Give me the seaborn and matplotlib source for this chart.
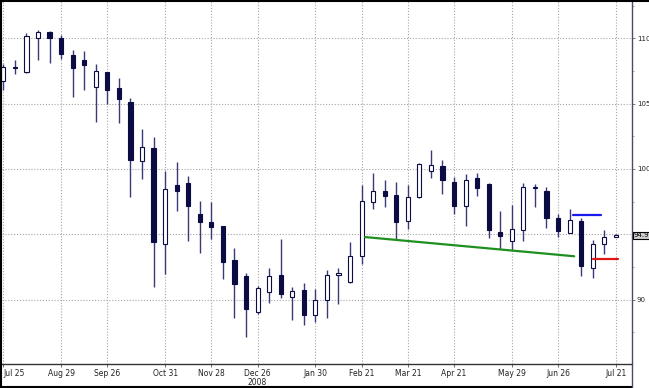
import numpy as np
import pandas as pd
import matplotlib
matplotlib.use("Agg")
import matplotlib.pyplot as plt
from matplotlib.lines import Line2D
from matplotlib.ticker import MultipleLocator
from matplotlib.transforms import blended_transform_factory
import seaborn as sns

# ---- data (weekly candles) ----
opens = [106.74, 107.72, 107.45, 110.05, 110.48, 110.00, 108.70, 108.32, 106.23, 107.40,
         106.18, 105.14, 100.58, 101.57, 94.24, 98.80, 98.88, 96.56, 95.90, 95.60,
         93.00, 91.78, 89.05, 90.56, 91.88, 90.20, 90.76, 88.80, 89.95, 91.90,
         91.34, 93.33, 97.50, 98.32, 98.02, 95.98, 97.83, 99.82, 100.25, 98.98,
         97.15, 99.28, 98.85, 95.16, 94.45, 95.29, 98.55, 98.29, 96.26, 95.11,
         96.00, 92.41, 94.27, 94.80]
highs = [108.02, 108.37, 110.38, 110.60, 110.58, 110.25, 109.10, 109.03, 108.02, 107.45,
         106.95, 105.39, 103.08, 102.41, 99.82, 100.56, 99.49, 97.56, 97.45, 95.65,
         93.94, 92.06, 91.00, 92.44, 94.63, 90.94, 91.30, 90.81, 92.29, 92.44,
         94.40, 98.73, 99.66, 99.11, 98.98, 98.80, 100.43, 101.45, 100.71, 99.36,
         99.62, 99.72, 98.90, 96.74, 97.27, 98.90, 98.85, 98.65, 96.56, 96.92,
         96.23, 94.53, 95.34, 95.00]
lows = [106.05, 107.25, 107.35, 108.30, 108.10, 108.40, 105.47, 106.03, 103.56, 105.00,
        103.53, 97.86, 99.21, 90.92, 91.93, 96.76, 94.45, 93.56, 94.60, 91.60,
        88.55, 87.15, 88.90, 89.72, 90.12, 88.40, 88.02, 88.29, 88.55, 89.69,
        91.30, 92.75, 96.92, 97.07, 94.66, 95.42, 97.80, 99.28, 98.09, 96.56,
        95.62, 97.96, 94.73, 93.89, 93.76, 94.45, 97.07, 95.50, 94.78, 95.10,
        91.78, 91.68, 93.51, 94.75]
closes = [107.83, 107.80, 110.18, 110.50, 110.05, 108.78, 107.71, 107.94, 107.48, 106.00,
          105.34, 100.71, 101.65, 94.37, 98.44, 98.27, 97.15, 95.92, 95.54, 92.85,
          91.22, 89.28, 90.86, 91.78, 90.40, 90.66, 88.80, 89.95, 91.91, 92.00,
          93.36, 97.53, 98.27, 97.96, 95.95, 97.83, 100.35, 100.27, 99.11, 97.15,
          99.11, 98.52, 95.29, 94.83, 95.37, 98.65, 98.62, 96.26, 95.21, 96.05,
          92.56, 94.22, 94.78, 94.90]
date_labels = ["Jul 25", "Aug 29", "Sep 26", "Oct 31", "Nov 28", "Dec 26", "Jan 30",
               "Feb 21", "Mar 21", "Apr 21", "May 29", "Jun 26", "Jul 21"]
label_positions = [0, 5, 9, 14, 18, 22, 27, 31, 35, 39, 44, 48, 53]
year_label = "2008"
year_position = 22
y_ticks = [90, 95, 100, 105, 110]
y_tick_labels = ["90", "", "100", "105", "110"]   # 95 is hidden under the price box
last_price_label = "94.9"

green_x = [31.3, 49.4]
green_y = [94.78, 93.31]
blue_x = [49.3, 51.7]
blue_y = [96.46, 96.46]
red_x = [51.0, 53.2]
red_y = [93.08, 93.08]

# ---- styling ----
sns.set_theme(style="white")
plt.rcParams['font.family'] = ['Liberation Sans Narrow', 'DejaVu Sans']

navy = '#0c0c44'
wick = '#3a3a78'

df = pd.DataFrame(dict(idx=np.arange(len(opens)), open=opens, high=highs,
                       low=lows, close=closes))
df['up'] = df['close'] >= df['open']
df['body_lo'] = df[['open', 'close']].min(axis=1)
df['body_h'] = (df['close'] - df['open']).abs().clip(lower=0.09)

W, H = 649, 388
fig = plt.figure(figsize=(W / 100, H / 100), dpi=100)
ax = fig.add_axes([1.5 / W, 23.7 / H, (632 - 1.5) / W, (364.3 - 1) / H])

ax.vlines(df['idx'], df['low'], df['high'], color=wick, linewidth=1.0, zorder=2)
ax.bar(df['idx'], df['body_h'], bottom=df['body_lo'], width=0.36,
       color=np.where(df['up'], 'white', navy), edgecolor=navy,
       linewidth=0.8, zorder=3)

sns.lineplot(x=green_x, y=green_y, ax=ax, color='#1f8f1f', linewidth=1.6, zorder=4)
sns.lineplot(x=blue_x, y=blue_y, ax=ax, color='#1a1aee', linewidth=1.6, zorder=4)
sns.lineplot(x=red_x, y=red_y, ax=ax, color='#e01515', linewidth=1.6, zorder=4)

ax.set_xlim(-0.16, 54.4)
ax.set_ylim(85.04, 112.85)

ax.yaxis.tick_right()
ax.set_yticks(y_ticks)
ax.set_yticklabels(y_tick_labels)
ax.yaxis.set_minor_locator(MultipleLocator(2.5))
ax.tick_params(axis='y', which='major', labelsize=5, length=2.5, width=0.6,
               color='#666666', pad=1.0, labelcolor='#222222', right=True, left=False)
ax.tick_params(axis='y', which='minor', length=1.5, width=0.5, color='#888888',
               right=True, left=False)

ax.set_xticks(label_positions)
ax.set_xticklabels(date_labels)
ax.tick_params(axis='x', labelsize=5.5, length=2, width=0.6, color='#555555',
               pad=1.5, labelcolor='#222222', bottom=True)
ax.get_xticklabels()[0].set_ha('left')

ax.grid(True, which='major', color='#a5a5a5', linestyle=(0, (1, 1.6)), linewidth=0.8)
ax.set_axisbelow(True)
ax.set_xlabel('')
ax.set_ylabel('')

for s in ['left', 'top']:
    ax.spines[s].set_visible(False)
ax.spines['bottom'].set_color('#333333')
ax.spines['bottom'].set_linestyle((0, (1, 1)))
ax.spines['bottom'].set_linewidth(1.0)
ax.spines['right'].set_color('#4a4a6a')
ax.spines['right'].set_linewidth(1.0)

trans = blended_transform_factory(ax.transData, ax.transAxes)
ax.text(year_position, -0.049, year_label, transform=trans, fontsize=5.5,
        ha='center', va='center', color='#222222')

ptrans = blended_transform_factory(ax.transAxes, ax.transData)
ax.text(1.003, closes[-1], last_price_label, transform=ptrans, fontsize=5,
        ha='left', va='center', color='black', zorder=10, clip_on=False,
        bbox=dict(boxstyle='square,pad=0.12', fc='#cfcfcf', ec='black', lw=0.8))

# outer frame
fig.add_artist(Line2D([0, 1], [1 - 0.5 / H] * 2, transform=fig.transFigure, color='black', lw=1.5))
fig.add_artist(Line2D([0.5 / W] * 2, [0, 1], transform=fig.transFigure, color='black', lw=1.5))
fig.add_artist(Line2D([0, 632 / W], [1.0 / H] * 2, transform=fig.transFigure, color='black', lw=1.5))
fig.add_artist(Line2D([632 / W] * 2, [0, 23.7 / H], transform=fig.transFigure, color='#4a4a6a', lw=1.0))

fig.savefig('out.png', dpi=100)
